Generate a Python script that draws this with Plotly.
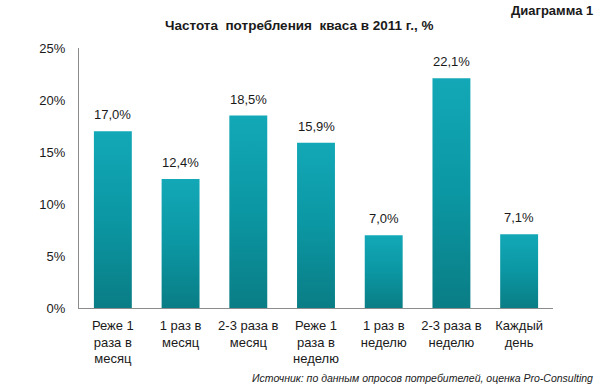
import plotly.graph_objects as go

categories = ["Реже 1<br>раза в<br>месяц", "1 раз в<br>месяц", "2-3 раза в<br>месяц",
              "Реже 1<br>раза в<br>неделю", "1 раз в<br>неделю", "2-3 раза в<br>неделю",
              "Каждый<br>день"]
values = [17.0, 12.4, 18.5, 15.9, 7.0, 22.1, 7.1]
labels = [f"{v:.1f}%".replace(".", ",") for v in values]
tick_vals = [0, 5, 10, 15, 20, 25]
tick_text = [f"{t}%" for t in tick_vals]

W, H = 599, 389
L, R, T, B = 79, 46, 48, 81
half = 0.28  # half bar width in category units

fig = go.Figure()
for i, v in enumerate(values):
    fig.add_trace(go.Scatter(
        x=[i - half, i + half, i + half, i - half, i - half],
        y=[0, 0, v, v, 0],
        mode="lines", line=dict(width=0), fill="toself",
        fillgradient=dict(type="vertical",
                          colorscale=[[0, "#0a7d85"], [0.5, "#0b97a3"], [1, "#13a8b7"]]),
        hoverinfo="skip", showlegend=False,
    ))

pw, ph = W - L - R, H - T - B
annotations = [
    dict(text="<b>Частота  потребления  кваса в 2011 г., %</b>", xref="paper",
         x=(299 - L) / pw, yref="paper", y=1 + (T - 25) / ph, yanchor="middle",
         showarrow=False, font=dict(size=13.5)),
    dict(text="<b>Диаграмма 1</b>", xref="paper", x=(595 - L) / pw, xanchor="right",
         yref="paper", y=1 + (T - 10) / ph, yanchor="middle", showarrow=False,
         font=dict(size=13)),
    dict(text="<i>Источник: по данным опросов потребителей, оценка Pro-Consulting</i>",
         xref="paper", x=(595 - L) / pw, xanchor="right", yref="paper",
         y=-(378 - (H - B)) / ph, yanchor="middle", showarrow=False,
         font=dict(size=10.5)),
]
for i, (v, lab) in enumerate(zip(values, labels)):
    annotations.append(dict(text=lab, x=i, y=v, xref="x", yref="y", yanchor="bottom",
                            yshift=7, showarrow=False, font=dict(size=13, color="#1a1a1a")))

fig.update_layout(
    width=W, height=H,
    paper_bgcolor="white", plot_bgcolor="white",
    margin=dict(l=L, r=R, t=T, b=B),
    showlegend=False,
    font=dict(family="Liberation Sans, Arial", size=12, color="#1a1a1a"),
    annotations=annotations,
)

fig.update_yaxes(range=[0, 25], tickvals=tick_vals, ticktext=tick_text,
                 showgrid=False, showline=True, linecolor="#8c8c8c", linewidth=1,
                 ticks="", tickfont=dict(size=13), ticklabelstandoff=10,
                 zeroline=False, fixedrange=True)
fig.update_xaxes(range=[-0.5, len(values) - 0.5], tickvals=list(range(len(values))),
                 ticktext=categories, showline=True, linecolor="#8c8c8c", linewidth=1,
                 tickfont=dict(size=13), ticks="", ticklabelstandoff=5,
                 showgrid=False, zeroline=False)

fig.write_html("out.html", config={"displayModeBar": False},
               post_script="document.body.style.margin='0';")
